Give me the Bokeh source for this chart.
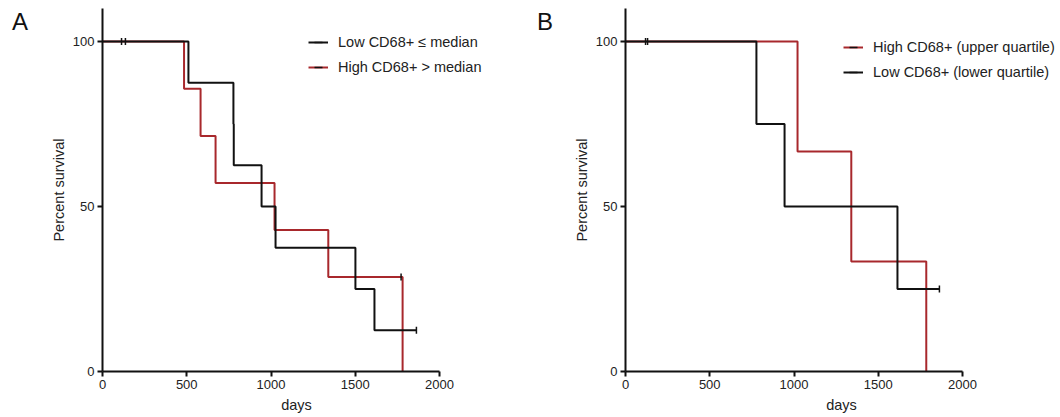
import math
from bokeh.plotting import figure
from bokeh.layouts import row
from bokeh.models import Legend, LegendItem, FixedTicker, Div
from bokeh.embed import file_html
from bokeh.resources import INLINE

# ---------------- data ----------------
# Panel A
a_low_days = [0, 510, 777, 779, 944, 1027, 1501, 1614, 1863]
a_low_surv = [100, 87.5, 75, 62.5, 50, 37.5, 25, 12.5, 12.5]
a_low_cens_days = [136, 1863]
a_low_cens_surv = [100, 12.5]

a_high_days = [0, 484, 582, 671, 1021, 1340, 1781]
a_high_surv = [100, 85.7, 71.4, 57.1, 42.9, 28.6, 0]
a_high_cens_days = [113, 1772]
a_high_cens_surv = [100, 28.6]

# Panel B
b_high_days = [0, 1021, 1340, 1785]
b_high_surv = [100, 66.7, 33.3, 0]
b_high_cens_days = [119]
b_high_cens_surv = [100]

b_low_days = [0, 777, 944, 1614, 1863]
b_low_surv = [100, 75, 50, 25, 25]
b_low_cens_days = [131, 1863]
b_low_cens_surv = [100, 25]

x_ticks = [0, 500, 1000, 1500, 2000]
y_ticks = [0, 50, 100]

RED = "#a8282c"
BLACK = "#111111"
FONT = "Liberation Sans"
PX_PER_DAY = 337 / 2000.0


def make_panel(width, right_border, series, legend_order, legend_loc):
    frame_w = width - 67 - right_border
    p = figure(width=width, height=417,
               x_range=(0, frame_w / PX_PER_DAY), y_range=(0, 110),
               output_backend="svg", toolbar_location=None,
               min_border_left=67, min_border_right=right_border,
               min_border_top=8, min_border_bottom=46, margin=(0, 0, 0, 0))
    p.outline_line_color = None
    p.grid.visible = False
    p.background_fill_color = "white"
    p.border_fill_color = "white"
    for ax in (p.xaxis[0], p.yaxis[0]):
        ax.axis_line_width = 2
        ax.axis_line_color = BLACK
        ax.major_tick_line_width = 2
        ax.major_tick_line_color = BLACK
        ax.major_tick_out = 5
        ax.major_tick_in = 0
        ax.minor_tick_line_color = None
        ax.major_label_text_font = FONT
        ax.major_label_text_font_size = "13px"
        ax.major_label_text_color = "#222222"
        ax.axis_label_text_font = FONT
        ax.axis_label_text_font_size = "14.5px"
        ax.axis_label_text_font_style = "normal"
        ax.axis_label_text_color = "#222222"
    p.xaxis.bounds = (0, 2000)
    p.xaxis.ticker = FixedTicker(ticks=x_ticks)
    p.yaxis.ticker = FixedTicker(ticks=y_ticks)
    p.xaxis.axis_label = "days"
    p.yaxis.axis_label = "Percent survival"
    p.xaxis.major_label_standoff = 3
    p.yaxis.major_label_standoff = 3
    p.xaxis.axis_label_standoff = 5
    p.yaxis.axis_label_standoff = 3

    rends = []
    for name, days, surv, cd, cs, color in series:
        ln = p.step(days, surv, mode="after", line_color=color, line_width=2)
        sc = p.scatter(cd, cs, marker="dash", angle=math.pi / 2, size=7,
                       line_color=BLACK, line_width=1.5)
        rends.append((name, [ln, sc]))
    items = [LegendItem(label=rends[i][0], renderers=rends[i][1]) for i in legend_order]
    leg = Legend(items=items, location=legend_loc, orientation="vertical",
                 glyph_width=20, glyph_height=20, label_height=20,
                 spacing=5, padding=0, margin=0, label_standoff=10,
                 border_line_color=None, background_fill_alpha=0,
                 label_text_font=FONT, label_text_font_size="14.5px",
                 label_text_color="#222222")
    p.add_layout(leg, "center")
    return p


def letter_div(letter, width, left):
    html = ('<div style="position:absolute; left:%dpx; top:5px; '
            'font-family:\'Liberation Sans\'; font-size:24px; color:#111;">%s</div>'
            % (left, letter))
    return Div(text=html, width=width, height=417, margin=(0, 0, 0, 0),
               styles={"position": "relative"})


series_a = [
    ("High CD68+ > median", a_high_days, a_high_surv, a_high_cens_days, a_high_cens_surv, RED),
    ("Low CD68+ \u2264 median", a_low_days, a_low_surv, a_low_cens_days, a_low_cens_surv, BLACK),
]
pa = make_panel(488, 33, series_a, [1, 0], (206, 294))

series_b = [
    ("High CD68+ (upper quartile)", b_high_days, b_high_surv, b_high_cens_days, b_high_cens_surv, RED),
    ("Low CD68+ (lower quartile)", b_low_days, b_low_surv, b_low_cens_days, b_low_cens_surv, BLACK),
]
pb = make_panel(502, 3, series_b, [0, 1], (218, 289))

layout = row(letter_div("A", 35, 12), pa, letter_div("B", 35, 14), pb, spacing=0)
open("out.html", "w").write(file_html(layout, INLINE))
